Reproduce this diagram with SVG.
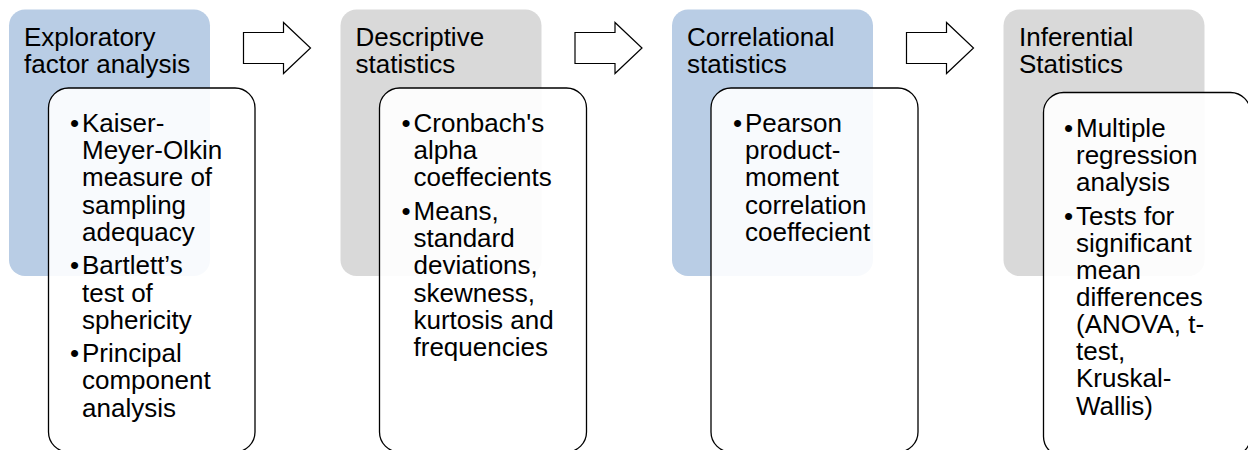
<svg xmlns="http://www.w3.org/2000/svg" width="1248" height="450" viewBox="0 0 1248 450">
<style>
.hdr-blue{fill:#b9cde5;}
.hdr-gray{fill:#d9d9d9;}
.card{fill:#ffffff;fill-opacity:0.9;stroke:#000000;stroke-width:1.3;}
.arrow{fill:#ffffff;stroke:#000000;stroke-width:1.2;stroke-linejoin:miter;}
text{font-family:"Liberation Sans",Arial,sans-serif;font-size:26px;fill:#000000;}
</style>
<rect width="1248" height="450" fill="#ffffff"/>
<g id="connectors">
<polygon class="arrow" points="243.5,32.5 283.5,32.5 283.5,22.5 310.5,48 283.5,73.5 283.5,63.5 243.5,63.5"/>
<polygon class="arrow" points="575,32.5 615,32.5 615,22.5 642,48 615,73.5 615,63.5 575,63.5"/>
<polygon class="arrow" points="906.5,32.5 946.5,32.5 946.5,22.5 973.5,48 946.5,73.5 946.5,63.5 906.5,63.5"/>
</g>
<g id="node1">
<rect class="hdr-blue" x="9" y="9.5" width="201" height="266.5" rx="16"/>
<text><tspan x="24" y="46">Exploratory</tspan><tspan x="24" y="73">factor analysis</tspan></text>
<rect class="card" x="48.5" y="88" width="206.5" height="364" rx="20"/>
<text><tspan x="70" y="131.7">•</tspan><tspan x="82" y="131.7">Kaiser-</tspan><tspan x="82" y="159">Meyer-Olkin</tspan><tspan x="82" y="186.3">measure of</tspan><tspan x="82" y="213.6">sampling</tspan><tspan x="82" y="240.9">adequacy</tspan>
<tspan x="70" y="274.2">•</tspan><tspan x="82" y="274.2">Bartlett’s</tspan><tspan x="82" y="301.5">test of</tspan><tspan x="82" y="328.8">sphericity</tspan>
<tspan x="70" y="362.1">•</tspan><tspan x="82" y="362.1">Principal</tspan><tspan x="82" y="389.4">component</tspan><tspan x="82" y="416.7">analysis</tspan></text>
</g>
<g id="node2">
<rect class="hdr-gray" x="340.5" y="9.5" width="201" height="266.5" rx="16"/>
<text><tspan x="355.5" y="46">Descriptive</tspan><tspan x="355.5" y="73">statistics</tspan></text>
<rect class="card" x="379.5" y="88" width="207" height="364" rx="20"/>
<text><tspan x="401.5" y="131.7">•</tspan><tspan x="413.5" y="131.7">Cronbach's</tspan><tspan x="413.5" y="159">alpha</tspan><tspan x="413.5" y="186.3">coeffecients</tspan>
<tspan x="401.5" y="219.8">•</tspan><tspan x="413.5" y="219.8">Means,</tspan><tspan x="413.5" y="247.1">standard</tspan><tspan x="413.5" y="274.4">deviations,</tspan><tspan x="413.5" y="301.7">skewness,</tspan><tspan x="413.5" y="329">kurtosis and</tspan><tspan x="413.5" y="356.3">frequencies</tspan></text>
</g>
<g id="node3">
<rect class="hdr-blue" x="672" y="9.5" width="201" height="266.5" rx="16"/>
<text><tspan x="687" y="46">Correlational</tspan><tspan x="687" y="73">statistics</tspan></text>
<rect class="card" x="711" y="88" width="207" height="364" rx="20"/>
<text><tspan x="733" y="131.7">•</tspan><tspan x="745" y="131.7">Pearson</tspan><tspan x="745" y="159">product-</tspan><tspan x="745" y="186.3">moment</tspan><tspan x="745" y="213.6">correlation</tspan><tspan x="745" y="240.9">coeffecient</tspan></text>
</g>
<g id="node4">
<rect class="hdr-gray" x="1003.5" y="9.5" width="201" height="266.5" rx="16"/>
<text><tspan x="1019" y="46">Inferential</tspan><tspan x="1019" y="73">Statistics</tspan></text>
<rect class="card" x="1043.5" y="92.5" width="207" height="364" rx="20"/>
<text><tspan x="1064" y="136.5">•</tspan><tspan x="1076" y="136.5">Multiple</tspan><tspan x="1076" y="163.6">regression</tspan><tspan x="1076" y="190.7">analysis</tspan>
<tspan x="1064" y="224.8">•</tspan><tspan x="1076" y="224.8">Tests for</tspan><tspan x="1076" y="251.9">significant</tspan><tspan x="1076" y="279">mean</tspan><tspan x="1076" y="306.1">differences</tspan><tspan x="1076" y="333.2">(ANOVA, t-</tspan><tspan x="1076" y="360.3">test,</tspan><tspan x="1076" y="387.4">Kruskal-</tspan><tspan x="1076" y="414.5">Wallis)</tspan></text>
</g>
</svg>
